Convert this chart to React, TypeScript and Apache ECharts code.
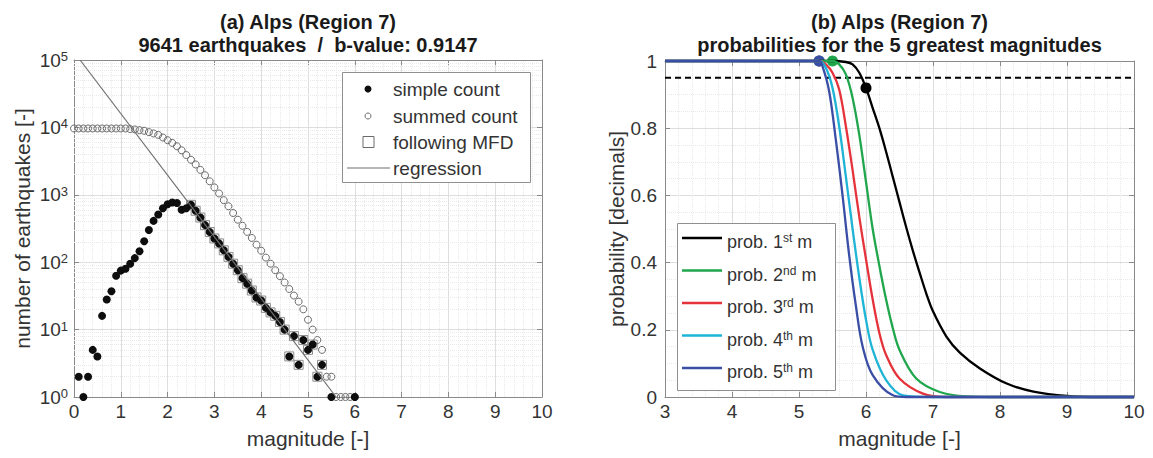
import React, { useEffect, useRef } from 'react';
import * as echarts from 'echarts';

const FONT = '"Liberation Sans", Arial, Helvetica, sans-serif';

// ---------- Panel (a) data ----------
const titleA = '(a) Alps (Region 7)';
const subtitleA = '9641 earthquakes  /  b-value: 0.9147';
const xTicksA = [0, 10];

const simpleMag = [0.1, 0.2, 0.3, 0.4, 0.5, 0.6, 0.7, 0.8, 0.9, 1.0, 1.1, 1.2, 1.3, 1.4, 1.5, 1.6, 1.7, 1.8, 1.9, 2.0,
  2.1, 2.2, 2.3, 2.4, 2.5, 2.6, 2.7, 2.8, 2.9, 3.0, 3.1, 3.2, 3.3, 3.4, 3.5, 3.6, 3.7, 3.8, 3.9, 4.0,
  4.1, 4.2, 4.3, 4.4, 4.5, 4.6, 4.7, 4.8, 4.9, 5.0, 5.1, 5.2, 5.3, 5.5, 6.0];
const simpleCount = [2, 1, 2, 5, 4, 16, 28, 37, 63, 75, 80, 95, 115, 145, 205, 300, 410, 510, 630, 725,
  770, 755, 600, 630, 710, 580, 460, 355, 280, 225, 190, 150, 120, 95, 76, 58, 48, 38, 30, 27,
  21, 18, 16, 13, 10, 4, 8, 3, 7, 5, 6, 2, 3, 1, 1];

const summedMag = [0.0, 0.1, 0.2, 0.3, 0.4, 0.5, 0.6, 0.7, 0.8, 0.9, 1.0, 1.1, 1.2, 1.3, 1.4, 1.5, 1.6, 1.7, 1.8, 1.9,
  2.0, 2.1, 2.2, 2.3, 2.4, 2.5, 2.6, 2.7, 2.8, 2.9, 3.0, 3.1, 3.2, 3.3, 3.4, 3.5, 3.6, 3.7, 3.8, 3.9,
  4.0, 4.1, 4.2, 4.3, 4.4, 4.5, 4.6, 4.7, 4.8, 4.9, 5.0, 5.1, 5.2, 5.3, 5.4, 5.5, 5.6, 5.7, 5.8, 5.9, 6.0];
const summedCount = [9641, 9641, 9641, 9641, 9641, 9641, 9641, 9641, 9641, 9641, 9641, 9641, 9441, 9333, 9120, 8913, 8511, 8128, 7762, 7079,
  6457, 5888, 5248, 4571, 3890, 3311, 2818, 2344, 1950, 1585, 1288, 1047, 832, 676, 537, 427, 347, 282, 229, 182,
  148, 117, 95, 76, 62, 50, 40, 32, 26, 20, 14, 10, 7, 5, 2, 2, 1, 1, 1, 1, 1];

const mfdMag = [2.5, 2.6, 2.7, 2.8, 2.9, 3.0, 3.1, 3.2, 3.3, 3.4, 3.5, 3.6, 3.7, 3.8, 3.9, 4.0,
  4.1, 4.2, 4.3, 4.4, 4.5, 4.6, 4.7, 4.8, 4.9, 5.0, 5.1, 5.2, 5.3];
const mfdCount = [710, 580, 460, 355, 280, 225, 190, 150, 120, 95, 76, 58, 48, 38, 30, 27,
  21, 18, 16, 13, 10, 4, 8, 3, 7, 5, 6, 2, 3];

const regMag = [0.13, 5.6];
const regCount = [100000, 1];

// ---------- Panel (b) data ----------
const titleB = '(b) Alps (Region 7)';
const subtitleB = 'probabilities for the 5 greatest magnitudes';

const mag1 = [3, 5.5, 5.7, 5.8, 5.9, 6.0, 6.1, 6.2, 6.3, 6.4, 6.5, 6.6, 6.7, 6.8, 6.9, 7.0, 7.2, 7.4, 7.7, 8.1, 8.5, 9.0, 9.5, 10];
const prob1 = [1, 1, 0.997, 0.99, 0.965, 0.92, 0.86, 0.8, 0.73, 0.655, 0.58, 0.505, 0.435, 0.37, 0.308, 0.255, 0.18, 0.132, 0.085, 0.04, 0.016, 0.003, 0, 0];

const mag2 = [3, 5.5, 5.6, 5.7, 5.8, 5.9, 6.0, 6.1, 6.2, 6.3, 6.4, 6.5, 6.75, 7.1, 7.5, 8, 10];
const prob2 = [1, 1, 0.99, 0.96, 0.89, 0.78, 0.64, 0.5, 0.39, 0.29, 0.205, 0.14, 0.055, 0.015, 0.002, 0, 0];

const mag3 = [3, 5.3, 5.4, 5.5, 5.6, 5.7, 5.8, 5.9, 6.0, 6.1, 6.2, 6.3, 6.5, 6.85, 7.2, 10];
const prob3 = [1, 1, 0.99, 0.965, 0.915, 0.805, 0.675, 0.536, 0.41, 0.29, 0.19, 0.125, 0.055, 0.01, 0, 0];

const mag4 = [3, 5.3, 5.4, 5.5, 5.6, 5.7, 5.8, 5.9, 6.0, 6.1, 6.3, 6.55, 7, 10];
const prob4 = [1, 1, 0.98, 0.92, 0.805, 0.655, 0.5, 0.355, 0.23, 0.14, 0.05, 0.005, 0, 0];

const mag5 = [3, 5.3, 5.35, 5.45, 5.55, 5.65, 5.75, 5.85, 5.95, 6.1, 6.4, 6.6, 10];
const prob5 = [1, 1, 0.985, 0.91, 0.765, 0.6, 0.42, 0.27, 0.15, 0.065, 0.005, 0, 0];

const obsMag = [6.0, 5.5, 5.3, 5.3, 5.3];
const obsProb = [0.92, 1.0, 1.0, 1.0, 1.0];

const thresholdMag = [3, 10];
const threshold = 0.95;

const curveColors = ['#000000', '#20a64c', '#e5333b', '#1eb4d6', '#3a4ea6'];
const curveNums = ['1', '2', '3', '4', '5'];
const curveSup = ['st', 'nd', 'rd', 'th', 'th'];

// ---------- styling ----------
const GRID_COLOR = '#dedede';
const MINOR_COLOR = '#e9e9e9';
const AXIS_COLOR = '#8a8a8a';
const TEXT_COLOR = '#333333';
const FS = 19;
const NAME_FS = 21;

const pair = (xs: number[], ys: number[]) => xs.map((x, i) => [x, ys[i]]);

const logMinorGrid: number[] = [];
for (let e = 0; e < 5; e++) for (let m = 2; m <= 9; m++) logMinorGrid.push(m * Math.pow(10, e));

const axisLineStyle = { show: true, onZero: false, lineStyle: { color: AXIS_COLOR, width: 1 } };
const tickStyle = { show: true, inside: true, length: 5, lineStyle: { color: AXIS_COLOR, width: 1 } };
const labelStyle = { fontSize: FS, color: TEXT_COLOR, fontFamily: FONT };
const nameStyle = { fontSize: NAME_FS, color: TEXT_COLOR, fontFamily: FONT };
const splitStyle = { show: true, lineStyle: { color: GRID_COLOR, width: 1 } };
const minorSplit = { show: true, lineStyle: { color: MINOR_COLOR, width: 1, type: 'dotted' } };

function buildOption(): any {
  const gA = { left: 74, top: 60, width: 468, height: 337 };
  const gB = { left: 665, top: 61, width: 469, height: 336 };

  const xAxes = [
    {
      type: 'value', gridIndex: 0, position: 'bottom', min: xTicksA[0], max: xTicksA[1], interval: 1,
      name: 'magnitude [-]', nameLocation: 'middle', nameGap: 31, nameTextStyle: nameStyle,
      axisLine: axisLineStyle, axisTick: tickStyle, axisLabel: { ...labelStyle, margin: 5 },
      minorTick: { show: false, splitNumber: 5 },
      splitLine: splitStyle, minorSplitLine: minorSplit,
    },
    {
      type: 'value', gridIndex: 0, position: 'top', min: xTicksA[0], max: xTicksA[1], interval: 1,
      axisLine: axisLineStyle, axisTick: tickStyle, axisLabel: { show: false }, splitLine: { show: false },
    },
    {
      type: 'value', gridIndex: 1, position: 'bottom', min: 3, max: 10, interval: 1,
      name: 'magnitude [-]', nameLocation: 'middle', nameGap: 31, nameTextStyle: nameStyle,
      axisLine: axisLineStyle, axisTick: tickStyle, axisLabel: { ...labelStyle, margin: 5 },
      minorTick: { show: false, splitNumber: 5 },
      splitLine: splitStyle, minorSplitLine: minorSplit,
    },
    {
      type: 'value', gridIndex: 1, position: 'top', min: 3, max: 10, interval: 1,
      axisLine: axisLineStyle, axisTick: tickStyle, axisLabel: { show: false }, splitLine: { show: false },
    },
  ];

  const yAxes = [
    {
      type: 'log', logBase: 10, gridIndex: 0, position: 'left', min: 1, max: 100000,
      name: 'number of earthquakes [-]', nameLocation: 'middle', nameGap: 41, nameTextStyle: nameStyle,
      axisLine: axisLineStyle, axisTick: tickStyle,
      axisLabel: {
        margin: 6,
        formatter: (v: number) => `{b|10}{s|${Math.round(Math.log10(v))}}`,
        rich: {
          b: { fontSize: FS, color: TEXT_COLOR, fontFamily: FONT, lineHeight: 20 },
          s: { fontSize: 13, color: TEXT_COLOR, fontFamily: FONT, lineHeight: 8, verticalAlign: 'top' },
        },
      },
      splitLine: splitStyle,
    },
    {
      type: 'log', logBase: 10, gridIndex: 0, position: 'right', min: 1, max: 100000,
      axisLine: axisLineStyle, axisTick: tickStyle, axisLabel: { show: false }, splitLine: { show: false },
    },
    {
      type: 'value', gridIndex: 1, position: 'left', min: 0, max: 1, interval: 0.2,
      name: 'probability [decimals]', nameLocation: 'middle', nameGap: 37, nameTextStyle: nameStyle,
      axisLine: axisLineStyle, axisTick: tickStyle, axisLabel: { ...labelStyle, margin: 8 },
      minorTick: { show: false, splitNumber: 4 },
      splitLine: splitStyle, minorSplitLine: minorSplit,
    },
    {
      type: 'value', gridIndex: 1, position: 'right', min: 0, max: 1, interval: 0.2,
      axisLine: axisLineStyle, axisTick: tickStyle, axisLabel: { show: false }, splitLine: { show: false },
    },
  ];

  const series: any[] = [
    {
      type: 'line', xAxisIndex: 0, yAxisIndex: 0, data: [], silent: true, symbol: 'none',
      markLine: {
        silent: true, z: 1, symbol: ['none', 'none'], label: { show: false },
        lineStyle: { color: MINOR_COLOR, type: 'dotted', width: 1 },
        emphasis: { disabled: true },
        data: logMinorGrid.map((v) => ({ yAxis: v })),
      },
    },
    {
      name: 'following MFD', type: 'scatter', xAxisIndex: 0, yAxisIndex: 0, clip: false,
      symbol: 'rect', symbolSize: 9,
      itemStyle: { color: 'rgba(0,0,0,0)', borderColor: '#8c8c8c', borderWidth: 1, opacity: 1 },
      data: pair(mfdMag, mfdCount),
    },
    {
      name: 'summed count', type: 'scatter', xAxisIndex: 0, yAxisIndex: 0, clip: false,
      symbol: 'circle', symbolSize: 7,
      itemStyle: { color: 'rgba(0,0,0,0)', borderColor: '#6a6a6a', borderWidth: 1, opacity: 1 },
      data: pair(summedMag, summedCount),
    },
    {
      name: 'simple count', type: 'scatter', xAxisIndex: 0, yAxisIndex: 0, clip: false,
      symbol: 'circle', symbolSize: 8,
      itemStyle: { color: '#0d0d0d', opacity: 1 },
      data: pair(simpleMag, simpleCount),
    },
    {
      name: 'regression', type: 'line', xAxisIndex: 0, yAxisIndex: 0, symbol: 'none',
      lineStyle: { color: '#707070', width: 1.2 },
      data: pair(regMag, regCount),
    },
    {
      name: 'threshold', type: 'line', xAxisIndex: 2, yAxisIndex: 2, symbol: 'none', clip: false,
      lineStyle: { color: '#000000', width: 2, type: [6, 4] },
      data: thresholdMag.map((m) => [m, threshold]),
    },
  ];

  const mags = [mag1, mag2, mag3, mag4, mag5];
  const probs = [prob1, prob2, prob3, prob4, prob5];
  for (let i = 0; i < 5; i++) {
    series.push({
      name: `prob. ${curveNums[i]}${curveSup[i]} m`, type: 'line', xAxisIndex: 2, yAxisIndex: 2,
      symbol: 'none', clip: false, smooth: 0.35,
      lineStyle: { color: curveColors[i], width: 2.3 },
      data: pair(mags[i], probs[i]),
    });
  }
  series.push({
    name: 'observed', type: 'scatter', xAxisIndex: 2, yAxisIndex: 2, clip: false,
    symbol: 'circle', symbolSize: 11,
    data: obsMag.map((m, i) => ({ value: [m, obsProb[i]], itemStyle: { color: curveColors[i], opacity: 1 } })),
  });

  // legends & titles as graphic text
  const graphic: any[] = [];
  const titleFont = `bold 20px ${FONT}`;
  const tA = gA.left + gA.width / 2;
  const tB = gB.left + gB.width / 2;
  [[titleA, subtitleA, tA], [titleB, subtitleB, tB]].forEach(([t, s, cx]) => {
    graphic.push({ type: 'text', x: cx, y: 22, z: 100, style: { text: t, font: titleFont, fill: '#1a1a1a', align: 'center', verticalAlign: 'middle' } });
    graphic.push({ type: 'text', x: cx, y: 45, z: 100, style: { text: s, font: titleFont, fill: '#1a1a1a', align: 'center', verticalAlign: 'middle' } });
  });

  // legend (a)
  const la = { x: 342, y: 72, w: 188, h: 110 };
  const rowsA = [89, 116, 142, 168];
  const legFontA = `19px ${FONT}`;
  graphic.push({ type: 'rect', z: 100, shape: { x: la.x + 0.5, y: la.y + 0.5, width: la.w, height: la.h }, style: { fill: '#ffffff', stroke: '#8f8f8f', lineWidth: 1 } });
  graphic.push({ type: 'circle', z: 101, shape: { cx: 368, cy: rowsA[0], r: 3.5 }, style: { fill: '#0d0d0d' } });
  graphic.push({ type: 'circle', z: 101, shape: { cx: 368, cy: rowsA[1], r: 3 }, style: { fill: 'none', stroke: '#6a6a6a', lineWidth: 1 } });
  graphic.push({ type: 'rect', z: 101, shape: { x: 363, y: rowsA[2] - 5.5, width: 11, height: 11 }, style: { fill: 'none', stroke: '#6a6a6a', lineWidth: 1 } });
  graphic.push({ type: 'line', z: 101, shape: { x1: 347, y1: rowsA[3], x2: 390, y2: rowsA[3] }, style: { stroke: '#707070', lineWidth: 1.2 } });
  ['simple count', 'summed count', 'following MFD', 'regression'].forEach((txt, i) => {
    graphic.push({ type: 'text', z: 101, x: 393, y: rowsA[i], style: { text: txt, font: legFontA, fill: TEXT_COLOR, align: 'left', verticalAlign: 'middle' } });
  });

  // legend (b)
  const lb = { x: 677, y: 223, w: 158, h: 167 };
  const rowsB = [238, 270.5, 303, 335.5, 368];
  graphic.push({ type: 'rect', z: 100, shape: { x: lb.x + 0.5, y: lb.y + 0.5, width: lb.w, height: lb.h }, style: { fill: '#ffffff', stroke: '#8f8f8f', lineWidth: 1 } });
  for (let i = 0; i < 5; i++) {
    graphic.push({ type: 'line', z: 101, shape: { x1: 682, y1: rowsB[i], x2: 722, y2: rowsB[i] }, style: { stroke: curveColors[i], lineWidth: 2.5 } });
    graphic.push({
      type: 'text', z: 101, x: 727, y: rowsB[i] + 4,
      style: {
        text: `{n|prob. ${curveNums[i]}}{s|${curveSup[i]}}{n| m}`,
        align: 'left', verticalAlign: 'middle',
        rich: {
          n: { fontSize: 18, fontFamily: FONT, fill: TEXT_COLOR, color: TEXT_COLOR, lineHeight: 20 },
          s: { fontSize: 12, fontFamily: FONT, fill: TEXT_COLOR, color: TEXT_COLOR, lineHeight: 8, verticalAlign: 'top' },
        },
      },
    });
  }

  return {
    animation: false,
    backgroundColor: '#ffffff',
    textStyle: { fontFamily: FONT },
    grid: [
      { ...gA, containLabel: false, outerBoundsMode: 'none' },
      { ...gB, containLabel: false, outerBoundsMode: 'none' },
    ],
    xAxis: xAxes,
    yAxis: yAxes,
    series,
    graphic,
  };
}

export default function App() {
  const ref = useRef<HTMLDivElement>(null);
  useEffect(() => {
    const chart = echarts.init(ref.current as HTMLDivElement, null, { renderer: 'svg' });
    chart.setOption(buildOption());
    return () => chart.dispose();
  }, []);
  return (
    <div
      ref={ref}
      style={{ position: 'fixed', left: 0, top: 0, width: 1153, height: 458, background: '#ffffff' }}
    />
  );
}
